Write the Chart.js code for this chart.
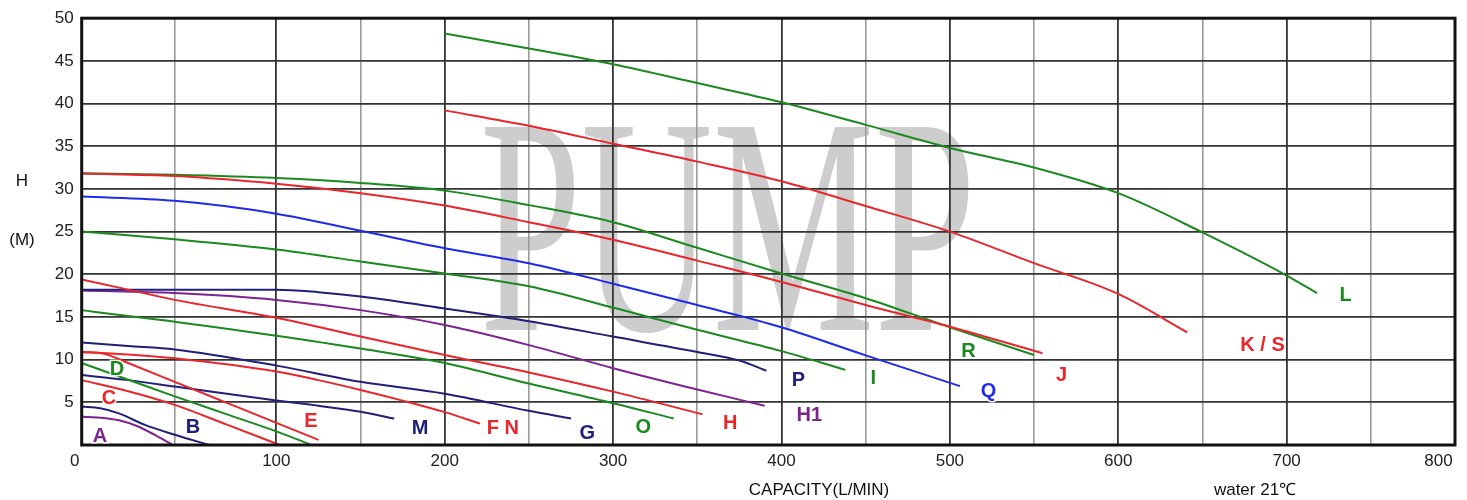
<!DOCTYPE html>
<html><head><meta charset="utf-8">
<script src="https://cdn.jsdelivr.net/npm/chart.js@4.4.0/dist/chart.umd.min.js"></script>
<style>html,body{margin:0;padding:0;background:#fff;overflow:hidden}canvas{display:block}</style>
</head><body><canvas id="c" width="1467" height="500"></canvas>
<script>
// ---- data (capacity L/MIN, head M) ----
const Q_A = [0,10,20,30,40,49];
const H_A = [3.3,3.2,2.9,2.2,1.1,0];
const Q_B = [0,10,20,34,50,67];
const H_B = [4.5,4.3,3.7,2.35,1.2,0];
const Q_C = [0,25,50,76,102];
const H_C = [7.6,6.3,4.7,2.35,0];
const Q_D = [0,25,50,75,100,121];
const H_D = [9.6,7.65,5.7,3.65,1.6,0];
const Q_E = [0,12,25,50,75,100,125];
const H_E = [10.9,10.7,9.6,7.4,5.0,2.6,0.6];
const Q_M = [0,25,50,100,125,150,170];
const H_M = [8.2,7.6,6.85,5.2,4.6,3.9,3.1];
const Q_FN = [0,25,50,100,125,150,175,200,221];
const H_FN = [10.9,10.6,10.15,8.6,7.6,6.45,5.2,3.85,2.5];
const Q_G = [0,25,50,100,150,200,250,275];
const H_G = [12,11.6,11.2,9.3,7.4,6.0,4.0,3.1];
const Q_O = [0,25,50,100,150,200,250,300,336];
const H_O = [15.8,15.1,14.45,12.8,11.3,9.6,7.2,4.9,3.1];
const Q_H = [0,25,50,100,150,200,250,300,353];
const H_H = [19.4,18.2,17.0,14.9,12.7,10.55,8.5,6.25,3.6];
const Q_P = [0,50,100,125,150,200,250,300,350,375,391];
const H_P = [18.2,18.2,18.2,17.9,17.4,16.0,14.5,12.7,10.9,9.9,8.7];
const Q_H1 = [0,50,100,150,200,250,300,350,390];
const H_H1 = [18.1,17.8,17.0,15.8,14.05,11.7,9.0,6.5,4.6];
const Q_I = [0,50,100,150,200,250,300,350,400,438];
const H_I = [25,24.1,22.9,21.5,20.1,18.6,16.1,13.5,11.0,8.8];
const Q_Q = [0,50,100,150,200,250,300,350,400,450,506];
const H_Q = [29.1,28.6,27.1,25.1,23.05,21.3,18.9,16.4,13.8,10.5,6.9];
const Q_J = [0,50,100,150,200,250,300,350,400,450,500,555];
const H_J = [31.8,31.5,30.6,29.5,28.05,26.1,24.05,21.6,19.1,16.4,13.85,10.75];
const Q_R = [0,50,100,150,200,250,300,350,400,450,500,550];
const H_R = [31.85,31.65,31.27,30.7,29.8,28.1,26.1,23.1,20.1,17.2,13.8,10.55];
const Q_KS = [200,250,300,350,400,450,500,550,600,641];
const H_KS = [39.2,37.4,35.3,33.2,30.9,28.0,25.0,21.3,17.7,13.2];
const Q_L = [200,250,300,350,400,450,500,550,600,650,700,718];
const H_L = [48.2,46.45,44.6,42.4,40.15,37.5,34.8,32.5,29.5,24.9,19.85,17.8];

// curve labels (anchor in data units)
const LABEL_TEXT = ['A','B','C','D','E','M','F N','G','O','H','P','H1','I','Q','R','J','K / S','L'];
const LABEL_Q    = [9.8,59,14.7,19,120.6,185.4,234.5,284.6,317.9,369.6,410,416.5,454.5,522.9,511,566.3,685.7,735];
const LABEL_H    = [0.94,2.0,5.4,8.9,2.7,1.9,1.9,1.4,2.0,2.5,7.6,3.4,7.85,6.3,11.0,8.2,11.7,17.5];

const X_TICKS_MIN = 0, X_TICKS_MAX = 800, X_STEP = 50;
const Y_MIN = 0, Y_MAX = 50, Y_STEP = 5;

// ---- styles ----
const GREEN = '#1a8a1f', RED = '#e8262b', NAVY = '#20207a', BLUE = '#1f2bea', PURPLE = '#7d2490';
const LABEL_COLOR = [PURPLE,NAVY,RED,GREEN,RED,NAVY,RED,NAVY,GREEN,RED,NAVY,PURPLE,GREEN,BLUE,GREEN,RED,RED,GREEN];
const curves = [
  [Q_A,H_A,PURPLE],[Q_B,H_B,NAVY],[Q_C,H_C,RED],[Q_D,H_D,GREEN],[Q_E,H_E,RED],
  [Q_M,H_M,NAVY],[Q_FN,H_FN,RED],[Q_G,H_G,NAVY],[Q_O,H_O,GREEN],[Q_H,H_H,RED],
  [Q_P,H_P,NAVY],[Q_H1,H_H1,PURPLE],[Q_I,H_I,GREEN],[Q_Q,H_Q,BLUE],[Q_J,H_J,RED],
  [Q_R,H_R,GREEN],[Q_KS,H_KS,RED],[Q_L,H_L,GREEN]
];

// piecewise-linear capacity axis (first 100 L/MIN drawn wider, as in the original sheet)
const KNOT_V = [0,50,100,800];
const KNOT_D = [0, 93/1373, 194.6/1373, 1];
class BreakScale extends Chart.LinearScale {
  getPixelForValue(v){
    if (v === null || v === undefined || isNaN(v)) return NaN;
    return this.getPixelForDecimal(toDec(v));
  }
  getValueForPixel(p){ return fromDec(this.getDecimalForPixel(p)); }
}
function toDec(v){
  for (let i=1;i<KNOT_V.length;i++){
    if (v <= KNOT_V[i] || i === KNOT_V.length-1){
      const t=(v-KNOT_V[i-1])/(KNOT_V[i]-KNOT_V[i-1]);
      return KNOT_D[i-1]+t*(KNOT_D[i]-KNOT_D[i-1]);
    }
  }
}
function fromDec(d){
  for (let i=1;i<KNOT_D.length;i++){
    if (d <= KNOT_D[i] || i === KNOT_D.length-1){
      const t=(d-KNOT_D[i-1])/(KNOT_D[i]-KNOT_D[i-1]);
      return KNOT_V[i-1]+t*(KNOT_V[i]-KNOT_V[i-1]);
    }
  }
}
BreakScale.id = 'breaklinear';
BreakScale.defaults = Chart.LinearScale.defaults;
Chart.register(BreakScale);

const FONT = '"Liberation Sans", Arial, sans-serif';

const decor = {
  id:'decor',
  beforeDraw(chart){
    const c = chart.ctx;
    c.save();
    c.fillStyle = '#fff';
    c.fillRect(0,0,chart.width,chart.height);
    // watermark
    c.translate(480,330);
    c.scale(0.587,1);
    c.font = '310px "Liberation Serif", serif';
    c.fillStyle = '#cdcdcd';
    c.textBaseline = 'alphabetic';
    c.fillText('PUMP',0,0);
    c.restore();
  },
  afterDraw(chart){
    const c = chart.ctx, a = chart.chartArea;
    const xs = chart.scales.x, ys = chart.scales.y;
    c.save();
    // frame
    c.strokeStyle = '#111';
    c.lineWidth = 3;
    c.strokeRect(a.left, a.top, a.right-a.left, a.bottom-a.top);
    // curve labels
    c.font = 'bold 20px ' + FONT;
    c.textAlign = 'center';
    c.textBaseline = 'middle';
    LABEL_TEXT.forEach((t,i)=>{
      const x = xs.getPixelForValue(LABEL_Q[i]), y = ys.getPixelForValue(LABEL_H[i]);
      c.lineWidth = 3; c.strokeStyle = 'rgba(255,255,255,0.9)';
      c.strokeText(t,x,y);
      c.fillStyle = LABEL_COLOR[i];
      c.fillText(t,x,y);
    });
    // axis titles
    c.fillStyle = '#111';
    c.font = '17px ' + FONT;
    c.fillText('H', 22, 181);
    c.fillText('(M)', 22, 240);
    c.fillText('CAPACITY(L/MIN)', 819, 490);
    c.fillText('water 21\u2103', 1255, 490);
    c.restore();
  }
};

new Chart(document.getElementById('c'), {
  type:'line',
  data:{
    datasets: curves.map(([q,h,col])=>({
      data: q.map((x,i)=>({x, y:h[i]})),
      borderColor: col,
      borderWidth: 2,
      pointRadius: 0,
      fill: false,
      cubicInterpolationMode: 'monotone'
    }))
  },
  options:{
    responsive:false,
    animation:false,
    events:[],
    layout:{ padding:{ top:18, right:12, bottom:0, left:0 } },
    plugins:{ legend:{display:false}, tooltip:{enabled:false} },
    scales:{
      x:{
        type:'breaklinear',
        min:X_TICKS_MIN, max:X_TICKS_MAX,
        ticks:{ stepSize:X_STEP, autoSkip:false, maxRotation:0, padding:6,
          color:'#222', font:{family:FONT, size:17},
          callback:(v)=> v === 0 ? '0   ' : v === 800 ? '800       ' : (v % 100 === 0 ? String(v) : '') },
        grid:{ drawTicks:false, lineWidth:(ctx)=> ctx.tick && ctx.tick.value % 100 === 0 ? 1.8 : 1.6,
          color:(ctx)=> ctx.tick && ctx.tick.value % 100 === 0 ? '#333' : '#9a9a9a' },
        border:{ display:false },
        afterFit:(s)=>{ s.height = 55; s.paddingLeft = 0; s.paddingRight = 0; }
      },
      y:{
        min:Y_MIN, max:Y_MAX,
        ticks:{ stepSize:Y_STEP, padding:8, color:'#222', font:{family:FONT, size:17},
          callback:(v)=> v === 0 ? '' : String(v) },
        grid:{ drawTicks:false, lineWidth:1.8, color:'#333' },
        border:{ display:false },
        afterFit:(s)=>{ s.width = 81.7; }
      }
    }
  },
  plugins:[decor]
});
</script>
</body></html>
